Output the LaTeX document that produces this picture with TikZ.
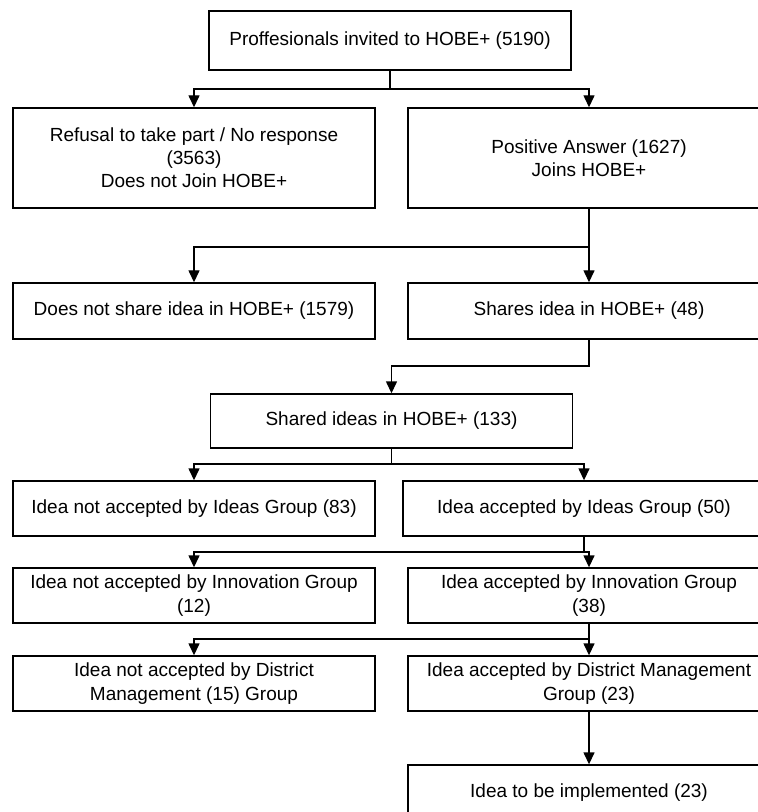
\documentclass[tikz,border=0pt]{standalone}
\usepackage{fontspec}
\setmainfont{Liberation Sans}
\usetikzlibrary{arrows.meta}
\begin{document}
\begin{tikzpicture}[x=0.5pt,y=-0.5pt,
    box/.style={draw,line width=0.7pt,minimum width=181pt,inner sep=2pt,align=center,
        font=\fontsize{9.5pt}{11.6pt}\selectfont},
    link/.style={draw,line width=0.7pt},
    arrow/.style={link,-{Triangle[width=5.5pt,length=6pt]}}]

    \clip (0,0) rectangle (758,812);
    \useasboundingbox (0,0) rectangle (758,812);

    \node[box,minimum height=29.5pt] (invited) at (390,40.5) {Proffesionals invited to HOBE+ (5190)};
    \node[box,minimum height=50pt] (refusal) at (194,158) {Refusal to take part / No response\\(3563)\\Does not Join HOBE+};
    \node[box,minimum height=50pt] (positive) at (589,158) {Positive Answer (1627)\\Joins HOBE+};
    \node[box,minimum height=28pt] (noshare) at (194,311) {Does not share idea in HOBE+ (1579)};
    \node[box,minimum height=28pt] (shares) at (589,311) {Shares idea in HOBE+ (48)};
    \node[box,minimum height=27pt] (shared) at (391.5,421) {Shared ideas in HOBE+ (133)};
    \node[box,minimum height=27.5pt] (ideasno) at (194,508.5) {Idea not accepted by Ideas Group (83)};
    \node[box,minimum height=27.5pt] (ideasyes) at (584,508.5) {Idea accepted by Ideas Group (50)};
    \node[box,minimum height=27.5pt] (innovno) at (194,595.5) {Idea not accepted by Innovation Group\\(12)};
    \node[box,minimum height=27.5pt] (innovyes) at (589,595.5) {Idea accepted by Innovation Group\\(38)};
    \node[box,minimum height=27.5pt] (districtno) at (194,683.5) {Idea not accepted by District\\Management (15) Group};
    \node[box,minimum height=27.5pt] (districtyes) at (589,683.5) {Idea accepted by District Management\\Group (23)};
    \node[box,minimum height=28pt] (implement) at (589,793) {Idea to be implemented (23)};

    \coordinate (split1) at (390,89);
    \coordinate (split2) at (589,247);
    \coordinate (split3) at (589,366);
    \coordinate (split4) at (391.5,464);
    \coordinate (split5) at (584,552);
    \coordinate (split6) at (589,639);

    \path[link] (invited) -- (split1);
    \path[arrow] (split1) -| (refusal);
    \path[arrow] (split1) -| (positive);

    \path[link] (positive) -- (split2);
    \path[arrow] (split2) -| (noshare);
    \path[arrow] (split2) -- (shares);

    \path[arrow] (shares) -- (split3) -| (shared);

    \path[link] (shared) -- (split4);
    \path[arrow] (split4) -| (ideasno);
    \path[arrow] (split4) -| (ideasyes);

    \path[link] (ideasyes) -- (split5);
    \path[arrow] (split5) -| (innovno);
    \path[arrow] (split5) -| (innovyes);

    \path[link] (innovyes) -- (split6);
    \path[arrow] (split6) -| (districtno);
    \path[arrow] (split6) -- (districtyes);

    \path[arrow] (districtyes) -- (implement);
\end{tikzpicture}
\end{document}
